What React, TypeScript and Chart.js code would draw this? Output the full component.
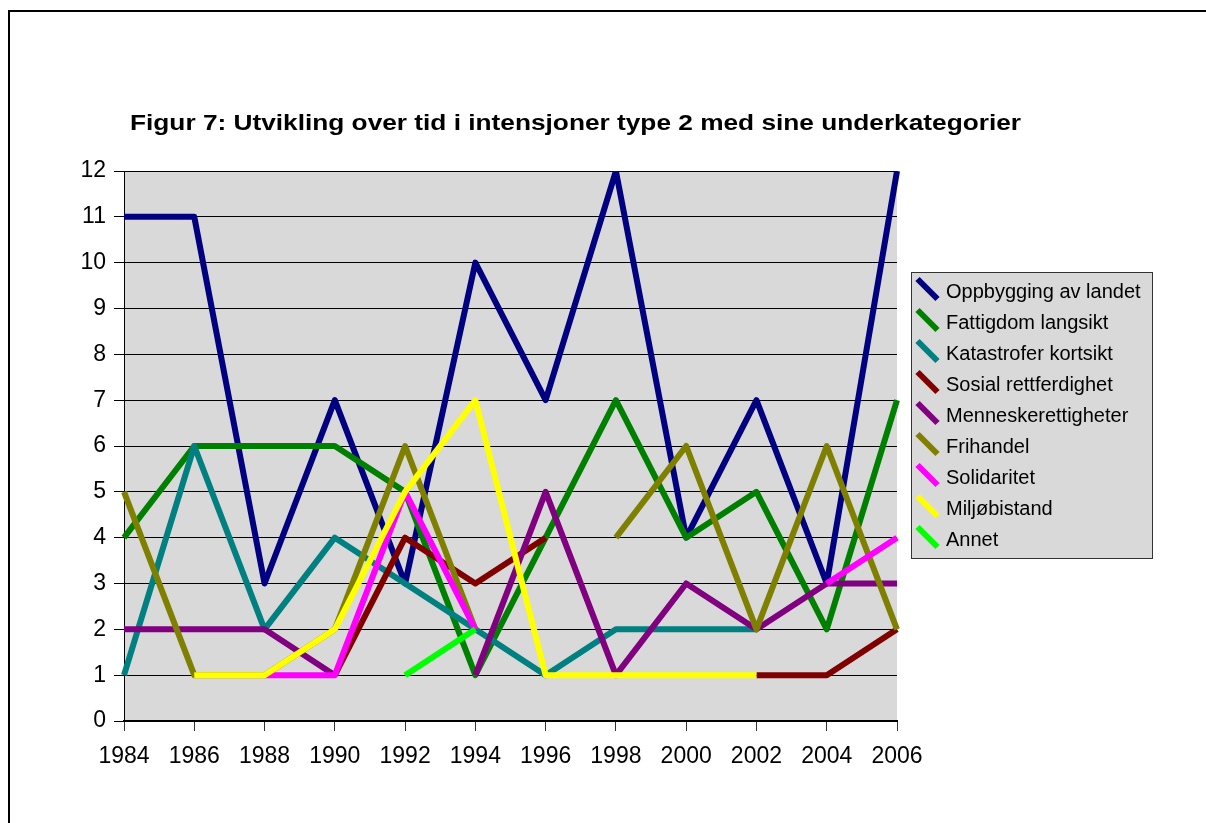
import React, { useEffect, useRef } from 'react';
import { Chart, registerables } from 'chart.js';

Chart.register(...registerables);

const FONT = '"Liberation Sans", Arial, sans-serif';

const years = ['1984', '1986', '1988', '1990', '1992', '1994', '1996', '1998', '2000', '2002', '2004', '2006'];

const seriesNames = [
  'Oppbygging av landet',
  'Fattigdom langsikt',
  'Katastrofer kortsikt',
  'Sosial rettferdighet',
  'Menneskerettigheter',
  'Frihandel',
  'Solidaritet',
  'Miljøbistand',
  'Annet',
];

const seriesColors = ['#000080', '#008000', '#008080', '#800000', '#800080', '#808000', '#FF00FF', '#FFFF00', '#00FF00'];

const oppbygging = [11, 11, 3, 7, 3, 10, 7, 12, 4, 7, 3, 12];
const fattigdom = [4, 6, 6, 6, 5, 1, 4, 7, 4, 5, 2, 7];
const katastrofer = [1, 6, 2, 4, 3, 2, 1, 2, 2, 2, null, null];
const sosial = [null, null, null, 1, 4, 3, 4, null, null, 1, 1, 2];
const menneskerettigheter = [2, 2, 2, 1, null, 1, 5, 1, 3, 2, 3, 3];
const frihandel = [5, 1, 1, 2, 6, 2, null, 4, 6, 2, 6, 2];
const solidaritet = [null, null, 1, 1, 5, 2, null, null, null, null, 3, 4];
const miljobistand = [null, 1, 1, 2, 5, 7, 1, 1, 1, 1, null, null];
const annet = [null, null, null, null, 1, 2, null, null, null, null, null, null];

const titleText = 'Figur 7: Utvikling over tid i intensjoner type 2 med sine underkategorier';

const decorPlugin = {
  id: 'decor',
  beforeDraw(chart: any) {
    const { ctx, chartArea } = chart;
    ctx.save();
    ctx.fillStyle = '#ffffff';
    ctx.fillRect(0, 0, chart.width, chart.height);
    // outer frame
    ctx.strokeStyle = '#000';
    ctx.lineWidth = 2;
    ctx.strokeRect(9, 11, 1400, 1000);
    // plot area background
    ctx.fillStyle = '#d9d9d9';
    ctx.fillRect(chartArea.left, chartArea.top, chartArea.right - chartArea.left, chartArea.bottom - chartArea.top);
    ctx.restore();
  },
  afterDraw(chart: any) {
    const { ctx } = chart;
    ctx.save();
    // title (slightly wide, as in the original)
    ctx.fillStyle = '#000';
    ctx.font = `bold 22px ${FONT}`;
    ctx.textAlign = 'left';
    ctx.textBaseline = 'alphabetic';
    const w = ctx.measureText(titleText).width;
    const target = 891;
    const sx = target / w;
    ctx.save();
    ctx.translate(130, 130);
    ctx.scale(sx, 1);
    ctx.fillText(titleText, 0, 0);
    ctx.restore();

    // legend
    const lx = 911, ly = 272, lw = 241, lh = 286;
    ctx.fillStyle = '#d9d9d9';
    ctx.fillRect(lx, ly, lw, lh);
    ctx.strokeStyle = '#333';
    ctx.lineWidth = 1;
    ctx.strokeRect(lx + 0.5, ly + 0.5, lw, lh);
    ctx.font = `20px ${FONT}`;
    ctx.textAlign = 'left';
    chart.data.datasets.forEach((ds: any, i: number) => {
      const base = 298 + i * 31;
      const cy = base - 9;
      const cx = 927.5;
      ctx.strokeStyle = ds.borderColor;
      ctx.lineWidth = 6;
      ctx.lineCap = 'butt';
      ctx.beginPath();
      ctx.moveTo(cx - 10, cy - 10);
      ctx.lineTo(cx + 10, cy + 10);
      ctx.stroke();
      ctx.fillStyle = '#000';
      ctx.fillText(ds.label, 946, base);
    });
    ctx.restore();
  },
};

export default function App() {
  const ref = useRef<HTMLCanvasElement>(null);
  useEffect(() => {
    document.body.style.margin = '0';
    const canvas = ref.current!;
    const all = [oppbygging, fattigdom, katastrofer, sosial, menneskerettigheter, frihandel, solidaritet, miljobistand, annet];
    const chart = new Chart(canvas, {
      type: 'line',
      data: {
        labels: years,
        datasets: all.map((d, i) => ({
          label: seriesNames[i],
          data: d,
          borderColor: seriesColors[i],
          backgroundColor: seriesColors[i],
          borderWidth: 6,
          pointRadius: 0,
          pointHoverRadius: 0,
          tension: 0,
          spanGaps: false,
          fill: false,
          order: all.length - i,
          borderJoinStyle: 'round',
          borderCapStyle: 'butt',
        })) as any,
      },
      options: {
        responsive: false,
        animation: false,
        devicePixelRatio: 1,
        events: [],
        layout: { padding: { left: 0, top: 171, right: 309, bottom: 0 } },
        plugins: {
          legend: { display: false },
          title: { display: false },
          tooltip: { enabled: false },
        },
        scales: {
          x: {
            type: 'category',
            offset: false,
            grid: { drawOnChartArea: false, drawTicks: true, tickLength: 10, color: '#333', lineWidth: 1 },
            border: { display: true, color: '#000', width: 2 },
            ticks: { font: { family: FONT, size: 23 }, color: '#000', padding: 12, maxRotation: 0, autoSkip: false },
            afterFit: (s: any) => {
              s.height = 102;
            },
          },
          y: {
            min: 0,
            max: 12,
            ticks: { stepSize: 1, font: { family: FONT, size: 23 }, color: '#000', padding: 8 },
            grid: { color: '#000', lineWidth: 1, tickLength: 10, drawTicks: true },
            border: { display: true, color: '#000', width: 1 },
            afterFit: (s: any) => {
              s.width = 124;
            },
          },
        },
      } as any,
      plugins: [decorPlugin],
    });
    return () => chart.destroy();
  }, []);
  return (
    <div style={{ width: 1206, height: 823, overflow: 'hidden', background: '#fff' }}>
      <canvas ref={ref} width={1206} height={823} style={{ display: 'block' }} />
    </div>
  );
}
